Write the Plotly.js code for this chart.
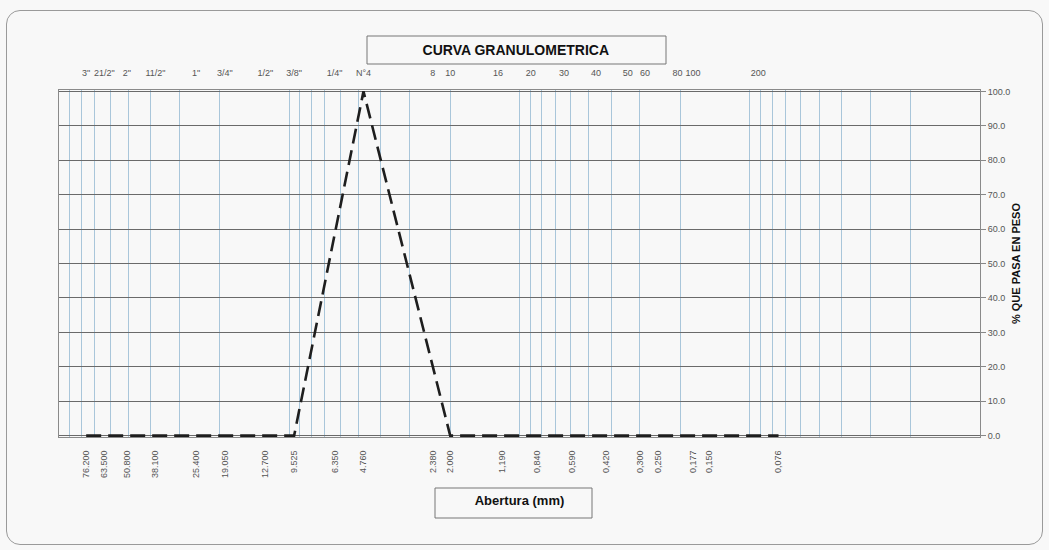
<!DOCTYPE html>
<html>
<head>
<meta charset="utf-8">
<script src="https://cdn.plot.ly/plotly-3.0.1.min.js"></script>
<style>
  html, body { margin: 0; padding: 0; background: #f8f8f8; }
  #wrap { position: relative; width: 1049px; height: 550px; }
  #chart { position: absolute; left: 0; top: 0; width: 1049px; height: 550px; }
  #frame { position: absolute; left: 6px; top: 10px; width: 1035px; height: 533px;
           border: 1px solid #9a9a9a; border-radius: 14px; pointer-events: none; }
</style>
</head>
<body>
<div id="wrap"><div id="chart"></div><div id="frame"></div></div>
<script>
// Sieve openings (mm), their printed labels and sieve names
const sieveMm = [76.2, 63.5, 50.8, 38.1, 25.4, 19.05, 12.7, 9.525, 6.35, 4.76, 2.38, 2.0,
                 1.19, 0.84, 0.59, 0.42, 0.3, 0.25, 0.177, 0.15, 0.075];
const sieveMmLabels = ['76.200', '63.500', '50.800', '38.100', '25.400', '19.050', '12.700', '9.525',
                       '6.350', '4.760', '2.380', '2.000', '1,190', '0,840', '0,590', '0,420',
                       '0,300', '0,250', '0,177', '0,150', '0,076'];
const sieveNames = ['3"', '21/2"', '2"', '11/2"', '1"', '3/4"', '1/2"', '3/8"', '1/4"', 'N°4', '8', '10',
                    '16', '20', '30', '40', '50', '60', '80', '100', '200'];
// % passing per sieve (null = not plotted)
const passingPct = [0, 0, 0, 0, 0, 0, 0, 0, null, 100, null, 0,
                    0, 0, 0, 0, 0, 0, 0, 0, 0];
// log-paper vertical grid (mm)
const gridMm = [90, 80, 70, 60, 50, 40, 30, 20, 10, 9, 8, 7, 6, 5, 4, 3, 2, 1,
                0.9, 0.8, 0.7, 0.6, 0.5, 0.4, 0.3, 0.2, 0.1,
                0.09, 0.08, 0.07, 0.06, 0.05, 0.04, 0.03, 0.02];
const yTicks = [0, 10, 20, 30, 40, 50, 60, 70, 80, 90, 100];

const FONT = 'Liberation Sans, Arial, sans-serif';
const splitIdx = 12;

const curve = {
  x: sieveMm, y: passingPct, type: 'scatter', mode: 'lines', connectgaps: true,
  line: { color: '#1e1e1e', width: 2.6, dash: '15px,7px' },
  hoverinfo: 'x+y', showlegend: false
};
// invisible carriers so the label axes are drawn
function carrier(ax, xs) {
  return { x: xs, y: xs.map(() => null), xaxis: ax, yaxis: 'y', type: 'scatter',
           mode: 'none', hoverinfo: 'skip', showlegend: false };
}

const tickFont = { family: FONT, size: 9, color: '#555' };

const layout = {
  width: 1049, height: 550,
  margin: { l: 59, r: 69, t: 90, b: 113 },
  paper_bgcolor: '#f8f8f8', plot_bgcolor: '#f8f8f8',
  showlegend: false,
  title: {
    text: '<b>CURVA GRANULOMETRICA</b>',
    font: { family: FONT, size: 14, color: '#111' },
    xref: 'paper', x: 0.496, xanchor: 'center',
    yref: 'container', y: 1 - 50 / 550, yanchor: 'middle'
  },
  xaxis: {
    type: 'log', range: [2, -2], autorange: false,
    tickmode: 'array', tickvals: gridMm, showticklabels: false, ticks: '',
    showgrid: true, gridcolor: '#a9c6da', gridwidth: 1,
    showline: true, mirror: true, linecolor: '#8a8a8a', linewidth: 1,
    zeroline: false,
    title: { text: '<b>Abertura (mm)</b>', font: { family: FONT, size: 13, color: '#111' }, standoff: 58 }
  },
  xaxis2: {
    type: 'log', range: [2, -2], autorange: false, overlaying: 'x', anchor: 'y', side: 'bottom',
    tickmode: 'array', tickvals: sieveMm, ticktext: sieveMmLabels, tickangle: -90,
    ticks: 'outside', ticklen: 9, tickcolor: 'rgba(0,0,0,0)',
    tickfont: tickFont, showgrid: false, showline: false, zeroline: false
  },
  xaxis3: {
    type: 'log', range: [2, -2], autorange: false, overlaying: 'x', anchor: 'y', side: 'top',
    tickmode: 'array', tickvals: sieveMm.slice(0, splitIdx), ticktext: sieveNames.slice(0, splitIdx),
    tickangle: 0, ticks: 'outside', ticklen: 9, tickcolor: 'rgba(0,0,0,0)',
    tickfont: tickFont, showgrid: false, showline: false, zeroline: false
  },
  xaxis4: {
    type: 'log', range: [2.10, -2.147], autorange: false, overlaying: 'x', anchor: 'y', side: 'top',
    tickmode: 'array', tickvals: sieveMm.slice(splitIdx), ticktext: sieveNames.slice(splitIdx),
    tickangle: 0, ticks: 'outside', ticklen: 9, tickcolor: 'rgba(0,0,0,0)',
    tickfont: tickFont, showgrid: false, showline: false, zeroline: false
  },
  yaxis: {
    side: 'right', range: [-0.4, 100.4], autorange: false,
    tickmode: 'array', tickvals: yTicks, tickformat: '.1f',
    ticks: 'outside', ticklen: 5, tickcolor: '#888',
    tickfont: tickFont,
    showgrid: true, gridcolor: '#6a6a6a', gridwidth: 1,
    showline: true, mirror: true, linecolor: '#8a8a8a', zeroline: false,
    title: { text: '<b>% QUE PASA EN PESO</b>', font: { family: FONT, size: 11, color: '#111' }, standoff: 2 }
  },
  shapes: [
    { type: 'rect', xref: 'paper', yref: 'paper', x0: (367 - 59) / 921, x1: (666 - 59) / 921,
      y0: (437 - 64) / 347, y1: (437 - 36) / 347, line: { color: '#777', width: 1 } },
    { type: 'rect', xref: 'paper', yref: 'paper', x0: (435 - 59) / 921, x1: (592 - 59) / 921,
      y0: (437 - 518) / 347, y1: (437 - 488) / 347, line: { color: '#777', width: 1 } }
  ]
};

const traces = [
  carrier('x2', sieveMm),
  carrier('x3', sieveMm.slice(0, splitIdx)),
  carrier('x4', sieveMm.slice(splitIdx)),
  curve
];

Plotly.newPlot('chart', traces, layout, { displayModeBar: false, staticPlot: true });
</script>
</body>
</html>
